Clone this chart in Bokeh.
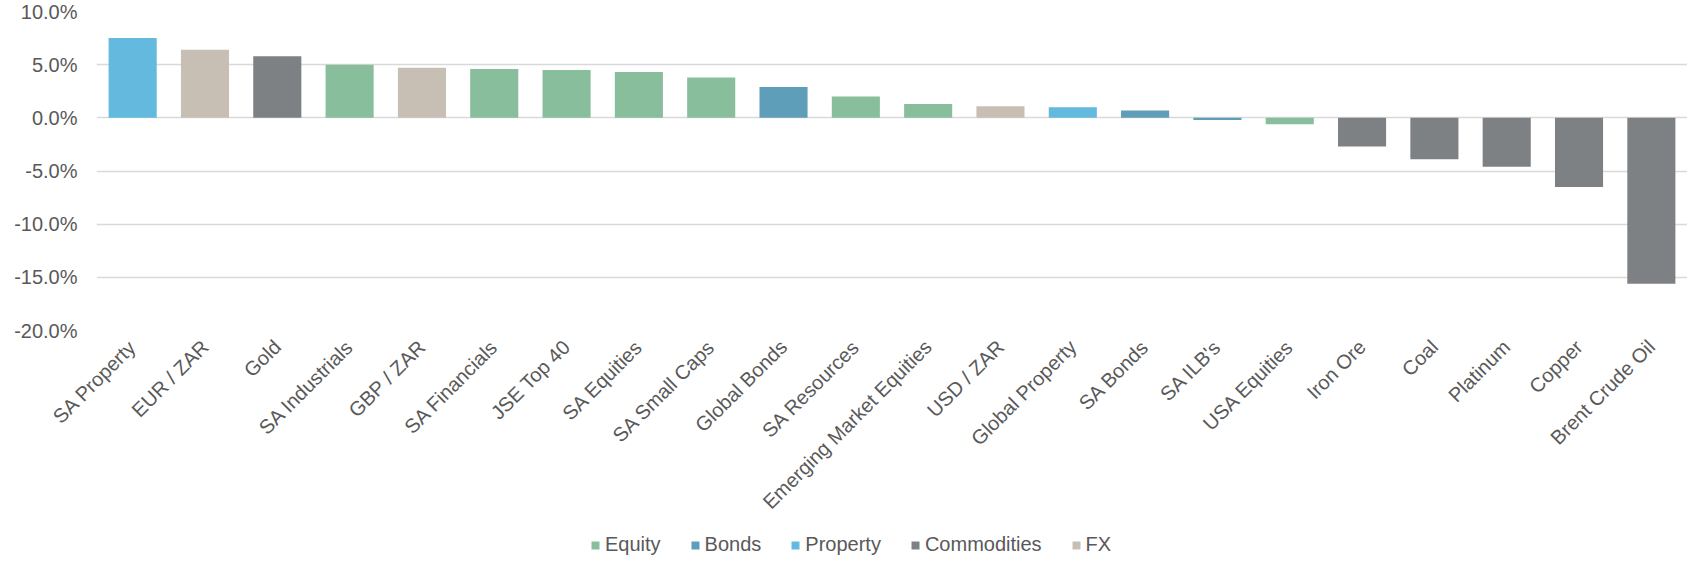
import math
from bokeh.plotting import figure
from bokeh.layouts import column
from bokeh.models import (FixedTicker, PrintfTickFormatter, Legend, LegendItem,
                          ColumnDataSource, Range1d)
from bokeh.embed import file_html
from bokeh.resources import INLINE

categories = ["SA Property", "EUR / ZAR", "Gold", "SA Industrials", "GBP / ZAR", "SA Financials",
              "JSE Top 40", "SA Equities", "SA Small Caps", "Global Bonds", "SA Resources",
              "Emerging Market Equities", "USD / ZAR", "Global Property", "SA Bonds", "SA ILB's",
              "USA Equities", "Iron Ore", "Coal", "Platinum", "Copper", "Brent Crude Oil"]
values = [7.5, 6.4, 5.8, 5.0, 4.7, 4.6, 4.5, 4.3, 3.8, 2.9, 2.0, 1.3, 1.1, 1.0, 0.7, -0.2,
          -0.6, -2.7, -3.9, -4.6, -6.5, -15.6]
asset_class = ["Property", "FX", "Commodities", "Equity", "FX", "Equity", "Equity", "Equity",
               "Equity", "Bonds", "Equity", "Equity", "FX", "Property", "Bonds", "Bonds",
               "Equity", "Commodities", "Commodities", "Commodities", "Commodities", "Commodities"]
class_names = ["Equity", "Bonds", "Property", "Commodities", "FX"]
class_colors = ["#88BE9C", "#5F9EB8", "#63B9DE", "#7E8184", "#C7BFB4"]
y_ticks = [-20, -15, -10, -5, 0, 5, 10]

FONT = "Liberation Sans"
TXT = "#595959"
GRID = "#D9D9D9"

p = figure(x_range=categories, y_range=(-20, 10), frame_width=1591, frame_height=319,
           min_border_left=96, min_border_right=0, min_border_top=11, min_border_bottom=195,
           output_backend="svg", toolbar_location=None, outline_line_color=None)

for name, col in zip(class_names, class_colors):
    xs = [c for c, k in zip(categories, asset_class) if k == name]
    ys = [v for v, k in zip(values, asset_class) if k == name]
    src = ColumnDataSource(dict(x=xs, top=ys))
    p.vbar(x="x", top="top", bottom=0, width=0.665, source=src,
           fill_color=col, line_color=None)

p.xgrid.grid_line_color = None
p.ygrid.grid_line_color = GRID
p.ygrid.grid_line_width = 1.5
p.ygrid.ticker = FixedTicker(ticks=y_ticks)

p.yaxis.ticker = FixedTicker(ticks=y_ticks)
p.yaxis.formatter = PrintfTickFormatter(format="%.1f%%")
p.yaxis.axis_line_color = None
p.yaxis.major_tick_line_color = None
p.yaxis.minor_tick_line_color = None
p.yaxis.major_tick_out = 0
p.yaxis.major_label_standoff = 19
p.yaxis.major_label_text_font = FONT
p.yaxis.major_label_text_font_size = "20px"
p.yaxis.major_label_text_color = TXT

p.xaxis.axis_line_color = None
p.xaxis.major_tick_line_color = None
p.xaxis.minor_tick_line_color = None
p.xaxis.major_tick_out = 0
p.xaxis.major_label_orientation = math.pi / 4
p.xaxis.major_label_standoff = 13
p.xaxis.major_label_text_font = FONT
p.xaxis.major_label_text_font_size = "20px"
p.xaxis.major_label_text_color = TXT

# legend strip below the chart (swatch renderers sit outside the visible range)
lg = figure(x_range=Range1d(0, 1), y_range=Range1d(0, 1), frame_width=1687, frame_height=32,
            min_border_left=0, min_border_right=0, min_border_top=0, min_border_bottom=0,
            x_axis_location=None, y_axis_location=None,
            output_backend="svg", toolbar_location=None, outline_line_color=None)
lg.xgrid.grid_line_color = None
lg.ygrid.grid_line_color = None
items = []
for name, col in zip(class_names, class_colors):
    src = ColumnDataSource(dict(x=[10.0], top=[10.0]))
    r = lg.vbar(x="x", top="top", bottom=9.5, width=0.5, source=src,
                fill_color=col, line_color=None)
    items.append(LegendItem(label=name, renderers=[r]))

legend = Legend(items=items, orientation="horizontal", location=(590, 1),
                label_text_font=FONT, label_text_font_size="20px", label_text_color=TXT,
                glyph_width=10, glyph_height=10, label_standoff=5, spacing=29,
                border_line_color=None, background_fill_alpha=0, padding=4, margin=0)
lg.add_layout(legend, "center")

layout = column(p, lg, spacing=0)
open("out.html", "w").write(file_html(layout, INLINE))
